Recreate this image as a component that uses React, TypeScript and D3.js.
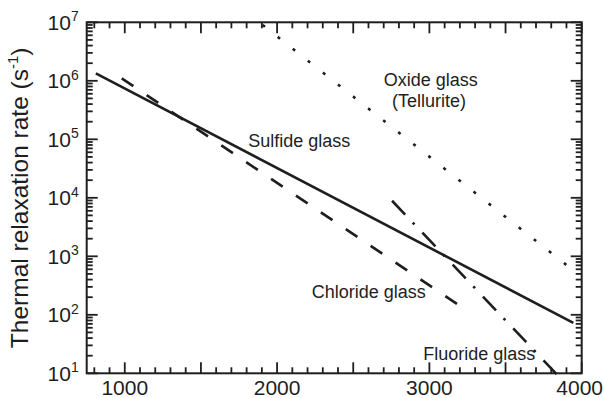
import * as d3 from "d3";

// phonon energy axis (x) and thermal relaxation rate (y, log)
const sulfideX = [810, 3945];
const sulfideY = [1.34e6, 73];
const chlorideX = [980, 3215];
const chlorideY = [1.1e6, 134];
const fluorideX = [2755, 3850];
const fluorideY = [8900, 8.8];
const oxideX = [1905, 3900];
const oxideY = [9e6, 710];

const xTickLabels = [1000, 2000, 3000, 4000];
const yExponents = [1, 2, 3, 4, 5, 6, 7];

const labelText = ["Sulfide glass", "Oxide glass", "(Tellurite)", "Chloride glass", "Fluoride glass"];
const labelX = [1810, 2700, 2755, 2227, 2960];
const labelY = [7.5e4, 8.15e5, 3.5e5, 191, 16.9];

const W = 603;
const H = 398;
const margin = { left: 86.7, right: 21.3, top: 22.3, bottom: 24.7 };
const ink = "#1e1e1e";
const font = "'Liberation Sans', Arial, Helvetica, sans-serif";

const series = [
  { xs: sulfideX, ys: sulfideY, dash: "none" },
  { xs: chlorideX, ys: chlorideY, dash: "14,16" },
  { xs: fluorideX, ys: fluorideY, dash: "19,11,2.5,11.5" },
  { xs: oxideX, ys: oxideY, dash: "3,16.2" },
];

export default function App() {
  const x = d3.scaleLinear().domain([750, 4000]).range([margin.left, W - margin.right]);
  const y = d3.scaleLog().domain([10, 1e7]).range([H - margin.bottom, margin.top]);
  const [x0, x1] = x.range();
  const [y0, y1] = y.range();

  const line = d3
    .line<[number, number]>()
    .x(d => x(d[0]))
    .y(d => y(d[1]));

  const xMajor = d3.range(1000, 4001, 500);
  const xMinor = d3.range(800, 4000, 100).filter(v => v % 500 !== 0);
  const yMajor = yExponents.map(e => Math.pow(10, e));
  const yMinor: number[] = [];
  for (let e = 1; e < 7; e++) for (let k = 2; k <= 9; k++) yMinor.push(k * Math.pow(10, e));

  const major = 11;
  const minor = 6;

  return (
    <svg
      width={W}
      height={H}
      style={{ position: "absolute", left: 0, top: 0, background: "#fff" }}
      fontFamily={font}
    >
      <defs>
        <clipPath id="plot">
          <rect x={x0} y={y1} width={x1 - x0} height={y0 - y1 + 3} />
        </clipPath>
      </defs>
      {/* ticks bottom/top */}
      <g stroke={ink} strokeWidth={1.8}>
        {xMajor.map(v => (
          <g key={"xM" + v}>
            <line x1={x(v)} x2={x(v)} y1={y0} y2={y0 - major} />
            <line x1={x(v)} x2={x(v)} y1={y1} y2={y1 + major} />
          </g>
        ))}
        {xMinor.map(v => (
          <g key={"xm" + v}>
            <line x1={x(v)} x2={x(v)} y1={y0} y2={y0 - minor} />
            <line x1={x(v)} x2={x(v)} y1={y1} y2={y1 + minor} />
          </g>
        ))}
        {yMajor.map(v => (
          <g key={"yM" + v}>
            <line x1={x0} x2={x0 + major} y1={y(v)} y2={y(v)} />
            <line x1={x1} x2={x1 - major} y1={y(v)} y2={y(v)} />
          </g>
        ))}
        {yMinor.map(v => (
          <g key={"ym" + v}>
            <line x1={x0} x2={x0 + minor} y1={y(v)} y2={y(v)} />
            <line x1={x1} x2={x1 - minor} y1={y(v)} y2={y(v)} />
          </g>
        ))}
      </g>
      <rect x={x0} y={y1} width={x1 - x0} height={y0 - y1} fill="none" stroke={ink} strokeWidth={2} />

      {/* tick labels */}
      <g fill={ink} fontSize={21}>
        {xTickLabels.map(v => (
          <text key={"xl" + v} x={x(v) - (v === 4000 ? 2 : 0)} y={y0 + 21.5} textAnchor="middle">
            {v}
          </text>
        ))}
        {yExponents.map(e => (
          <text key={"yl" + e} x={x0 - 8} y={y(Math.pow(10, e)) + 7.5} textAnchor="end">
            10
            <tspan fontSize={14} dy={-8.5}>
              {e}
            </tspan>
          </text>
        ))}
      </g>

      {/* axis title */}
      <text
        transform={`translate(28,${(y0 + y1) / 2}) rotate(-90)`}
        textAnchor="middle"
        fontSize={24.5}
        fill={ink}
      >
        Thermal relaxation rate (s
        <tspan fontSize={15} dy={-10}>
          -1
        </tspan>
        <tspan dy={10}>)</tspan>
      </text>

      {/* curves */}
      <g fill="none" stroke={ink} strokeWidth={2.6} clipPath="url(#plot)">
        {series.map((s, i) => (
          <path
            key={i}
            d={line(s.xs.map((v, j) => [v, s.ys[j]] as [number, number])) || ""}
            strokeDasharray={s.dash}
          />
        ))}
      </g>

      {/* annotations */}
      <g fill={ink} fontSize={18}>
        {labelText.map((t, i) => (
          <text key={t} x={x(labelX[i])} y={y(labelY[i])}>
            {t}
          </text>
        ))}
      </g>
    </svg>
  );
}
